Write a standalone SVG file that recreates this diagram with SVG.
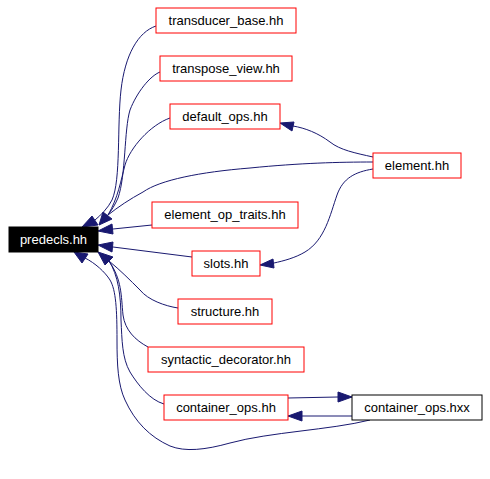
<svg xmlns="http://www.w3.org/2000/svg" width="490" height="479" viewBox="0 0 490 479">
<style>
.n rect{fill:#fff;stroke:#ff0000;stroke-width:1}
.n text{font-family:"Liberation Sans",Arial,sans-serif;font-size:13px;text-anchor:middle;fill:#000}
#predecls rect{fill:#000;stroke:#000}
#predecls text{fill:#fff}
#container_ops_hxx rect{stroke:#000}
#edges path{fill:none;stroke:#191970;stroke-width:1}
#edges polygon{fill:#191970;stroke:#191970;stroke-width:1}
</style>
<rect width="490" height="479" fill="#fff"/>
<g id="edges">
<path d="M156,26 C138,32 125,55 121,90 C117,125 121,180 112,200 C108,208 101,215 95,220"/>
<polygon points="82,227 92,216 98,225"/>
<path d="M160,72 C150,76 137,92 130,110 C124,130 126,175 118,198 C115,205 111,211 108,215"/>
<path d="M170,118 C150,125 130,148 125,165 C121,180 118,198 108,215"/>
<path d="M373,162 C340,162 300,163 250,168 C200,172 160,180 143,192 C130,199 118,207 108,215"/>
<polygon points="99,225 103,212 112,219"/>
<path d="M152,225 L113,229"/>
<polygon points="98,231 112,224 113,234"/>
<path d="M192,257 L113,247"/>
<polygon points="98,245 113,242 112,252"/>
<path d="M178,308 C165,306 148,300 140,290 C130,280 120,270 109,261"/>
<path d="M148,347 C135,340 125,330 123,315 C121,295 122,280 109,261"/>
<path d="M164,404 C150,400 138,385 130,372 C122,358 122,340 121,320 C121,295 118,275 109,261"/>
<polygon points="98,252 113,257 105,265"/>
<path d="M370,420 C330,430 270,432 230,443 C205,450 185,452 170,446 C150,437 135,422 125,400 C118,385 117,365 117,340 C117,310 116,290 110,280 C105,272 95,263 85,258"/>
<polygon points="74,252 88,254 82,263"/>
<path d="M373,157 C355,153 340,150 330,142 C318,133 305,128 293,126"/>
<polygon points="280,123 294,122 292,131"/>
<path d="M373,169 C355,172 343,178 337,195 C330,215 325,240 305,252 C295,258 283,261 274,263"/>
<polygon points="260,265 273,259 274,268"/>
<path d="M288,398 L338,397"/>
<polygon points="352,397 338,392 338,402"/>
<path d="M352,416 L302,416"/>
<polygon points="288,416 302,411 302,421"/>
</g>
<g id="transducer_base" class="n"><rect x="156" y="8" width="140" height="25"/><text x="226" y="25">transducer_base.hh</text></g>
<g id="transpose_view" class="n"><rect x="160" y="56" width="132" height="25"/><text x="226" y="73">transpose_view.hh</text></g>
<g id="default_ops" class="n"><rect x="170" y="104" width="110" height="25"/><text x="225" y="121">default_ops.hh</text></g>
<g id="element" class="n"><rect x="373" y="153" width="88" height="25"/><text x="417" y="170">element.hh</text></g>
<g id="element_op_traits" class="n"><rect x="152" y="202" width="146" height="26"/><text x="225" y="219">element_op_traits.hh</text></g>
<g id="predecls" class="n"><rect x="9" y="227" width="89" height="25"/><text x="53.5" y="244">predecls.hh</text></g>
<g id="slots" class="n"><rect x="192" y="251" width="68" height="25"/><text x="226" y="268">slots.hh</text></g>
<g id="structure" class="n"><rect x="178" y="299" width="94" height="25"/><text x="225" y="316">structure.hh</text></g>
<g id="syntactic_decorator" class="n"><rect x="148" y="347" width="156" height="25"/><text x="226" y="364">syntactic_decorator.hh</text></g>
<g id="container_ops_hh" class="n"><rect x="164" y="395" width="124" height="25"/><text x="226" y="412">container_ops.hh</text></g>
<g id="container_ops_hxx" class="n"><rect x="352" y="395" width="130" height="25"/><text x="417" y="412">container_ops.hxx</text></g>
</svg>
